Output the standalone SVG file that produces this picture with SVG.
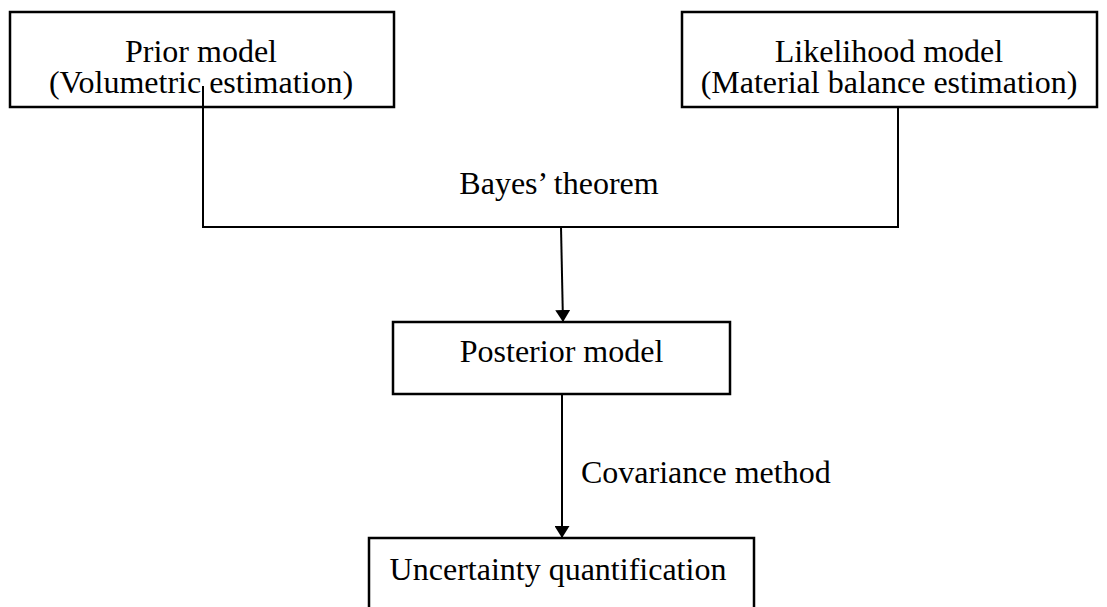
<svg xmlns="http://www.w3.org/2000/svg" width="1107" height="607" viewBox="0 0 1107 607">
<style>
.box{fill:#fff;stroke:#000;stroke-width:2.5}
.t{font-family:"Liberation Serif","Times New Roman",serif;font-size:32px;fill:#000}
.c{text-anchor:middle}
.ln{fill:none;stroke:#000;stroke-width:2}
</style>
<defs>
<marker id="ah" markerWidth="12" markerHeight="15" refX="12" refY="7.5" orient="auto" markerUnits="userSpaceOnUse" viewBox="0 0 12 15">
<path d="M0,0 L12,7.5 L0,15 Z" fill="#000"/>
</marker>
</defs>
<g id="prior">
<rect class="box" x="10" y="12" width="384" height="95"/>
<text class="t c" x="201" y="62">Prior model</text>
<text class="t c" x="201" y="93">(Volumetric estimation)</text>
</g>
<g id="likelihood">
<rect class="box" x="682" y="12" width="415" height="95"/>
<text class="t c" x="889" y="62">Likelihood model</text>
<text class="t c" x="889" y="93">(Material balance estimation)</text>
</g>
<g id="posterior">
<rect class="box" x="393" y="322" width="337" height="72"/>
<text class="t c" x="561.5" y="362">Posterior model</text>
</g>
<g id="uncertainty">
<rect class="box" x="369" y="538" width="385" height="80"/>
<text class="t c" x="558" y="580">Uncertainty quantification</text>
</g>
<g id="connectors">
<polyline class="ln" points="203,86 203,227 898,227 898,107"/>
<line class="ln" x1="561" y1="227" x2="563" y2="322" marker-end="url(#ah)"/>
<line class="ln" x1="562" y1="394" x2="562" y2="538" marker-end="url(#ah)"/>
<text class="t c" x="559" y="194">Bayes’ theorem</text>
<text class="t" x="581" y="483">Covariance method</text>
</g>
</svg>
